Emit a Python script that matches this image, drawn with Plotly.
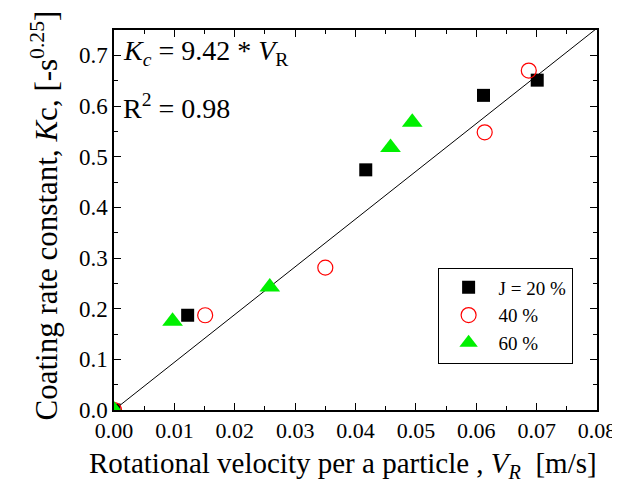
import plotly.graph_objects as go

# data
vr_20 = [0.0, 0.0122, 0.0417, 0.0612, 0.0701]
kc_20 = [0.0, 0.187, 0.474, 0.621, 0.651]
vr_40 = [0.0, 0.0151, 0.0350, 0.0614, 0.0687]
kc_40 = [0.0, 0.187, 0.281, 0.548, 0.670]
vr_60 = [0.0, 0.0097, 0.0258, 0.0458, 0.0494]
kc_60 = [0.0, 0.175, 0.243, 0.518, 0.568]
slope = 9.42
fit_x = [0.0, 0.08]
x_range = [0, 0.08]
y_range = [0, 0.75]
x_ticks = [0.0, 0.01, 0.02, 0.03, 0.04, 0.05, 0.06, 0.07, 0.08]
x_labels = ["0.00", "0.01", "0.02", "0.03", "0.04", "0.05", "0.06", "0.07", "0.08"]
y_ticks = [0.0, 0.1, 0.2, 0.3, 0.4, 0.5, 0.6, 0.7]
y_labels = ["0.0", "0.1", "0.2", "0.3", "0.4", "0.5", "0.6", "0.7"]

FONT = "Liberation Serif"

fig = go.Figure()

# linear fit through origin
fig.add_trace(go.Scatter(
    x=fit_x, y=[slope * v for v in fit_x], mode="lines",
    line=dict(color="black", width=1), showlegend=False, hoverinfo="skip"))

fig.add_trace(go.Scatter(
    x=vr_20, y=kc_20, mode="markers", name="J = 20 %",
    marker=dict(symbol="square", size=13, color="black")))
fig.add_trace(go.Scatter(
    x=vr_40, y=kc_40, mode="markers", name="40 %",
    marker=dict(symbol="circle-open", size=15, color="red", line=dict(width=1.2))))
fig.add_trace(go.Scatter(
    x=vr_60, y=kc_60, mode="markers", name="60 %",
    marker=dict(symbol="triangle-up", size=18, color="#00f000")))

# invisible trace so the minor-tick overlay axes get drawn
fig.add_trace(go.Scatter(
    x=x_range, y=y_range, xaxis="x2", yaxis="y2", mode="markers",
    marker=dict(opacity=0), showlegend=False, hoverinfo="skip"))

fig.update_layout(
    width=620, height=485,
    margin=dict(l=106, r=21, t=22, b=83),
    plot_bgcolor="white", paper_bgcolor="white",
    font=dict(family=FONT, size=22, color="black"),
)

fig.update_layout(
    xaxis=dict(
        range=x_range, tickmode="array", tickvals=x_ticks, ticktext=x_labels,
        showline=True, linecolor="black", linewidth=1.5, mirror="allticks",
        ticks="inside", ticklen=7, tickwidth=1.2, tickcolor="black",
        showgrid=False, zeroline=False,
        tickfont=dict(family=FONT, size=22, color="black")),
    yaxis=dict(
        range=y_range, tickmode="array", tickvals=y_ticks, ticktext=y_labels,
        showline=True, linecolor="black", linewidth=1.5, mirror="allticks",
        ticks="inside", ticklen=7, tickwidth=1.2, tickcolor="black",
        showgrid=False, zeroline=False,
        tickfont=dict(family=FONT, size=23, color="black")),
    # minor ticks drawn by overlay axes
    xaxis2=dict(
        overlaying="x", side="bottom", anchor="y", range=x_range, dtick=0.005,
        ticks="inside", ticklen=4, tickwidth=1, tickcolor="black", mirror="ticks",
        showline=False, showgrid=False, zeroline=False, showticklabels=False),
    yaxis2=dict(
        overlaying="y", side="left", anchor="x", range=y_range, dtick=0.05,
        ticks="inside", ticklen=4, tickwidth=1, tickcolor="black", mirror="ticks",
        showline=False, showgrid=False, zeroline=False, showticklabels=False),
)

# axis titles as annotations so they sit where the original puts them
fig.add_annotation(
    x=0.475, y=-0.145, xref="paper", yref="paper", xanchor="center", yanchor="middle",
    text="Rotational velocity per a particle , <i>V<sub>R</sub></i>  [m/s]",
    showarrow=False, font=dict(family=FONT, size=29, color="black"))
fig.add_annotation(
    x=-0.144, y=0.513, xref="paper", yref="paper", xanchor="center", yanchor="middle",
    text="Coating rate constant, <i>K</i>c, [-s<sup>0.25</sup>]", textangle=-90,
    showarrow=False, font=dict(family=FONT, size=31, color="black"))

fig.add_annotation(
    x=0.0012, y=0.705, xref="x", yref="y", xanchor="left", yanchor="middle",
    text="<i>K<sub>c</sub></i> = 9.42 * <i>V</i><sub>R</sub>", showarrow=False,
    font=dict(family=FONT, size=28, color="black"))
fig.add_annotation(
    x=0.0012, y=0.6, xref="x", yref="y", xanchor="left", yanchor="middle",
    text="R<sup>2</sup> = 0.98", showarrow=False,
    font=dict(family=FONT, size=28, color="black"))

fig.update_layout(
    legend=dict(x=0.67, y=0.375, xanchor="left", yanchor="top",
                bordercolor="black", borderwidth=1, bgcolor="white",
                font=dict(family=FONT, size=19, color="black"),
                itemwidth=50, tracegroupgap=0),
)

fig.write_html("out.html")
